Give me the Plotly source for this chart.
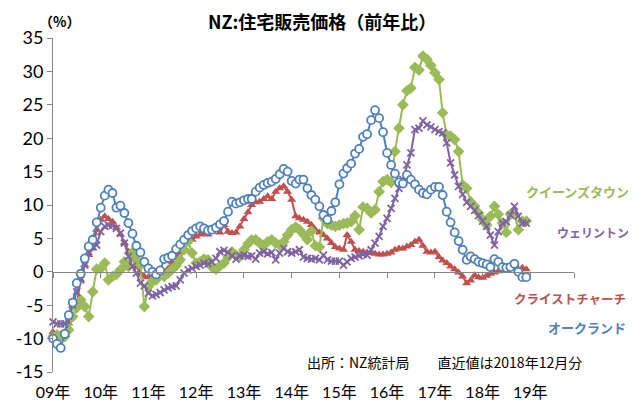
import plotly.graph_objects as go
import pandas as pd

# ---- data (year-on-year %, monthly Jan 2009 - Dec 2018) ----
months = pd.date_range("2009-01-01", periods=120, freq="MS")

auckland = [
    -10.0, -10.8, -11.4, -9.3, -6.5, -4.6, -1.7, -0.3, 2.0, 3.8, 4.8, 7.4,
    9.6, 11.4, 12.3, 11.8, 9.6, 9.9, 8.8, 7.3, 5.7, 3.9, 2.9, 1.5,
    0.5, 0.0, -0.4, 0.2, 1.9, 2.1, 2.4, 3.4, 4.1, 4.8, 5.5, 6.1,
    6.5, 6.8, 6.5, 6.2, 6.3, 6.6, 7.1, 7.6, 9.0, 10.5, 10.2, 10.4,
    10.7, 10.9, 10.9, 12.0, 12.6, 13.0, 13.3, 13.5, 13.9, 14.6, 15.4, 15.0,
    13.6, 13.2, 13.8, 13.8, 12.5, 11.5, 10.8, 9.8, 8.5, 7.8, 9.1, 10.4,
    13.1, 14.7, 15.5, 16.2, 17.7, 18.4, 20.2, 20.6, 22.7, 24.2, 23.0, 20.9,
    17.8, 16.0, 14.7, 13.4, 13.2, 14.5, 13.8, 13.1, 12.3, 11.8, 11.6, 12.3,
    12.7, 12.7, 11.5, 9.0, 7.4, 5.9, 4.6, 3.3, 1.8, 2.3, 1.9, 1.5,
    1.3, 1.1, 0.7, 1.9, 1.5, 0.7, 0.6, 0.7, 1.2, 0.0, -0.8, -0.8,
]
queenstown = [
    -9.7, -9.5, -9.6, -9.7, -8.7, -6.7, -5.4, -4.2, -5.2, -6.7, -3.0, 0.4,
    0.5, 1.3, -1.2, -0.7, -0.4, 0.3, 1.5, 0.8, 2.9, 1.8, 1.0, -5.2,
    -2.2, -1.4, -1.2, -0.2, -0.7, -0.2, 0.4, 0.9, 1.8, 3.3, 4.6, 2.8,
    1.3, 1.5, 1.9, 1.8, 0.7, 0.4, 0.9, 1.3, 2.2, 3.0, 2.5, 2.3,
    3.3, 4.2, 4.8, 4.8, 4.3, 4.0, 4.5, 4.8, 4.3, 4.0, 4.5, 5.5,
    6.3, 6.7, 6.3, 5.6, 4.8, 6.1, 3.9, 3.7, 8.0, 7.2, 7.0, 6.8,
    7.0, 7.2, 7.3, 7.5, 8.4, 6.3, 9.7, 9.5, 8.8, 9.3, 12.0, 13.5,
    13.8, 13.4, 18.0, 21.5, 25.0, 27.1, 27.5, 30.6, 30.2, 32.3, 31.8, 30.9,
    29.8, 28.8, 23.8, 20.5, 20.3, 19.8, 18.0, 13.0, 12.5, 10.5, 9.8, 8.8,
    7.8, 7.0, 8.3, 9.8, 8.6, 7.3, 5.9, 8.6, 8.7, 6.3, 7.6, 7.6,
]
wellington = [
    -7.5, -7.8, -7.8, -7.8, -6.6, -5.0, -3.0, -1.2, 1.0, 3.0, 3.8, 4.0,
    6.0, 6.8, 7.0, 6.9, 6.5, 5.8, 4.3, 2.3, 0.8, -0.2, -1.7, -2.1,
    -3.2, -3.6, -3.4, -3.1, -2.7, -2.4, -2.2, -2.1, -1.2, -0.2, 0.3, 0.5,
    0.8, 1.0, 1.3, 1.2, 1.5, 2.0, 3.0, 3.2, 2.9, 2.4, 1.9, 2.4,
    2.5, 2.3, 2.4, 1.9, 2.8, 3.0, 2.7, 2.9, 1.8, 2.8, 3.5, 3.0,
    2.8, 3.0, 3.3, 2.2, 2.0, 1.9, 2.0, 1.8, 2.5, 1.8, 1.6, 1.6,
    1.6, 1.0, 1.5, 2.0, 2.2, 2.4, 2.6, 2.5, 3.3, 4.3, 5.3, 6.8,
    8.0, 9.5, 11.0, 12.5, 13.8, 16.0, 17.8, 21.3, 21.5, 22.6, 22.0, 21.7,
    21.3, 21.0, 20.8, 19.3, 16.3, 14.5, 12.8, 11.6, 10.4, 9.8, 9.2, 8.4,
    7.6, 6.8, 5.5, 4.0, 6.0, 7.3, 7.5, 8.5, 9.8, 8.3, 7.3, 7.3,
]
christchurch = [
    -9.0, -9.2, -9.4, -9.6, -7.7, -5.0, -4.9, -1.2, 1.0, 2.5, 3.5, 6.3,
    7.8, 8.3, 7.9, 7.5, 6.6, 5.6, 4.3, 3.0, 1.8, 0.8, -0.2, -0.7,
    -0.8, -0.7, -0.2, -0.6, -0.1, 0.5, 1.5, 2.4, 2.9, 5.0, 4.5, 4.8,
    5.3, 5.6, 5.8, 5.6, 6.0, 6.3, 5.9, 7.0, 6.0, 5.8, 5.9, 6.8,
    7.9, 8.9, 10.0, 10.4, 10.5, 10.9, 11.3, 10.9, 12.0, 12.5, 12.8, 12.0,
    10.8, 8.3, 8.0, 7.8, 7.5, 7.0, 6.3, 5.9, 5.5, 5.0, 4.3, 3.7,
    3.5, 3.3, 5.5, 4.5, 3.3, 3.1, 3.0, 2.9, 2.8, 2.7, 2.6, 2.6,
    2.7, 2.9, 3.3, 3.5, 3.5, 3.8, 4.0, 4.5, 4.8, 3.9, 3.0, 2.9,
    3.0, 2.2, 1.7, 1.3, 0.8, 0.4, -0.1, -0.7, -1.7, -1.3, -0.5, -0.8,
    -0.9, -0.6, -0.3, -0.1, 0.1, 0.2, 0.4, 0.6, 0.7, 0.4, 0.6, 0.4,
]

year_ticks = pd.date_range("2009-01-01", periods=11, freq="YS")
year_labels = ["09年", "10年", "11年", "12年", "13年", "14年", "15年", "16年", "17年", "18年", "19年"]
y_ticks = [-15, -10, -5, 0, 5, 10, 15, 20, 25, 30, 35]
y_labels = ["-15", "-10", "-5", "0", "5", "10", "15", "20", "25", "30", "35"]

series_names = ["クライストチャーチ", "クイーンズタウン", "ウェリントン", "オークランド"]

# ---- styling ----
BLUE = "#4F81BD"
RED = "#C0504D"
GREEN = "#9BBB59"
PURPLE = "#8064A2"
AXIS = "#868686"
FONT = "Lato, 'Noto Sans CJK JP', sans-serif"
JFONT = "'Noto Sans CJK JP', sans-serif"

# the page adds an 8px body margin, so the figure is sized to fit inside the 636x402 window
OFF = 8
W, H = 636 - OFF, 402 - OFF
L, R, T, B = 53 - OFF, 62, 38 - OFF, 30
PW, PH = W - L - R, H - T - B


def px(xs):
    """screen x -> paper fraction"""
    return (xs - OFF - L) / PW


def py(ys):
    """screen y -> paper fraction"""
    return (H - B - (ys - OFF)) / PH


fig = go.Figure()

fig.add_trace(go.Scatter(
    x=months, y=christchurch, name=series_names[0], mode="lines+markers",
    line=dict(color=RED, width=2),
    marker=dict(symbol="triangle-up", size=8, color=RED),
    cliponaxis=False,
))
fig.add_trace(go.Scatter(
    x=months, y=queenstown, name=series_names[1], mode="lines+markers",
    line=dict(color=GREEN, width=2),
    marker=dict(symbol="diamond", size=9, color=GREEN),
    cliponaxis=False,
))
fig.add_trace(go.Scatter(
    x=months, y=wellington, name=series_names[2], mode="lines+markers",
    line=dict(color=PURPLE, width=2),
    marker=dict(symbol="x-thin", size=7, color=PURPLE, line=dict(color=PURPLE, width=1.8)),
    cliponaxis=False,
))
fig.add_trace(go.Scatter(
    x=months, y=auckland, name=series_names[3], mode="lines+markers",
    line=dict(color=BLUE, width=2),
    marker=dict(symbol="circle", size=8, color="white", line=dict(color=BLUE, width=1.8)),
    cliponaxis=False,
))
# helper trace so the zero-line axis (x2) is drawn
fig.add_trace(go.Scatter(x=[None], y=[None], xaxis="x2", showlegend=False, hoverinfo="skip"))

xrange = ["2009-01-01", "2019-12-01"]

fig.update_layout(
    width=W, height=H,
    margin=dict(l=L, r=R, t=T, b=B),
    paper_bgcolor="white", plot_bgcolor="white",
    showlegend=False,
    font=dict(family=FONT, color="#000000"),
    xaxis=dict(
        type="date", range=xrange, automargin=False,
        tickvals=list(year_ticks), ticktext=year_labels,
        ticks="outside", ticklen=6, tickcolor="rgba(0,0,0,0)",
        showline=False, showgrid=False, zeroline=False,
        tickfont=dict(family=FONT, size=16, color="#000000"),
    ),
    xaxis2=dict(
        type="date", range=xrange, overlaying="x", anchor="free", position=0.3,
        automargin=False,
        tickvals=list(year_ticks) + [pd.Timestamp("2019-12-01")],
        showticklabels=False, ticks="outside", ticklen=5, tickcolor=AXIS,
        showline=True, linecolor=AXIS, linewidth=1, showgrid=False, zeroline=False,
    ),
    yaxis=dict(
        range=[-15, 35], tickvals=y_ticks, ticktext=y_labels, automargin=False,
        ticks="outside", ticklen=5, tickcolor=AXIS,
        showline=True, linecolor=AXIS, linewidth=1,
        showgrid=False, zeroline=False,
        tickfont=dict(family=FONT, size=18, color="#000000"),
    ),
)

annotations = [
    dict(text="<b>NZ:住宅販売価格（前年比）</b>", x=px(322), y=py(21), xanchor="center", yanchor="middle",
         font=dict(family=JFONT, size=18, color="#000000"), borderpad=0),
    dict(text="<b>（%）</b>", x=px(59), y=py(21), xanchor="center", yanchor="middle",
         font=dict(family=JFONT, size=14, color="#000000"), borderpad=0),
    dict(text="<b>クイーンズタウン</b>", x=px(577), y=py(191), xanchor="center", yanchor="middle",
         font=dict(family=JFONT, size=13, color=GREEN)),
    dict(text="<b>ウェリントン</b>", x=px(593), y=py(232), xanchor="center", yanchor="middle",
         font=dict(family=JFONT, size=12, color=PURPLE)),
    dict(text="<b>クライストチャーチ</b>", x=px(570), y=py(298), xanchor="center", yanchor="middle",
         font=dict(family=JFONT, size=12.5, color=RED)),
    dict(text="<b>オークランド</b>", x=px(587), y=py(327), xanchor="center", yanchor="middle",
         font=dict(family=JFONT, size=13, color=BLUE)),
    dict(text="出所：NZ統計局　　直近値は2018年12月分", x=px(444), y=py(362), xanchor="center", yanchor="middle",
         font=dict(family=JFONT, size=14, color="#000000")),
]
for a in annotations:
    a.update(xref="paper", yref="paper", showarrow=False)
fig.update_layout(annotations=annotations)

fig.write_html("out.html")
